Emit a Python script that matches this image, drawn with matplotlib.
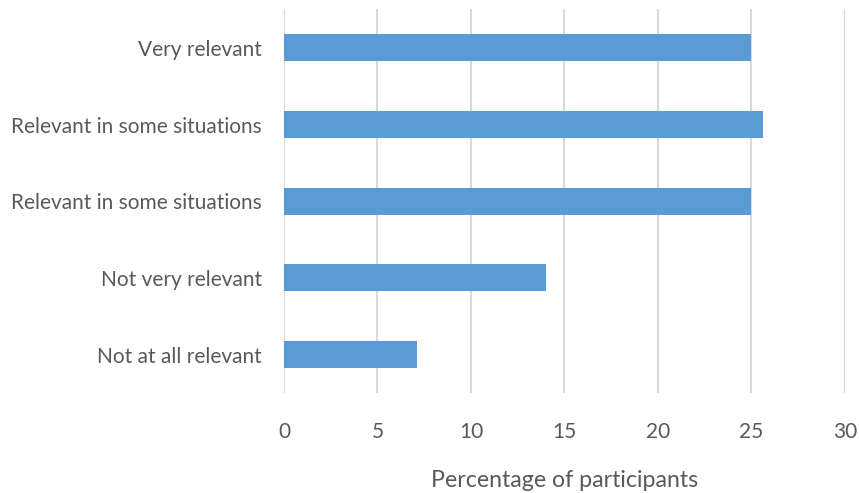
import numpy as np
import matplotlib.pyplot as plt

categories = ["Very relevant", "Relevant in some situations", "Relevant in some situations",
              "Not very relevant", "Not at all relevant"]
values = [25.0, 25.6, 25.0, 14.0, 7.1]
xticks = [0, 5, 10, 15, 20, 25, 30]

plt.rcParams['font.family'] = ['Lato', 'DejaVu Sans']

fig = plt.figure(figsize=(8.59, 4.93), dpi=100)
ax = fig.add_axes([0.3306, 0.2029, 0.6531, 0.7779])

pos = np.arange(len(categories))
ax.barh(pos, values, height=0.35, color='#5b9bd5', zorder=3)
ax.set_yticks(pos)
ax.set_yticklabels(categories)
ax.set_ylim(len(categories) - 0.5, -0.5)

ax.set_xlim(0, 30)
ax.set_xticks(xticks)
ax.xaxis.grid(True, color='#d9d9d9', linewidth=1.5, zorder=0)
ax.set_axisbelow(True)
for s in ax.spines.values():
    s.set_visible(False)
ax.tick_params(axis='both', length=0, labelsize=15, colors='#595959')
ax.tick_params(axis='x', pad=21)
ax.tick_params(axis='y', pad=16)
ax.set_xlabel("Percentage of participants", fontsize=16.7, color='#595959', labelpad=20)

fig.savefig("out.png", dpi=100)
